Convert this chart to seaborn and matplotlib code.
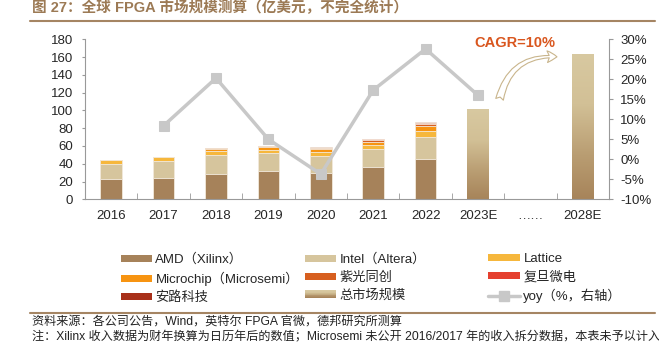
import numpy as np
import pandas as pd
import seaborn as sns
import matplotlib
matplotlib.use("Agg")
import matplotlib.pyplot as plt
from matplotlib.patches import Patch, Rectangle, FancyArrowPatch
from matplotlib.lines import Line2D
from matplotlib.legend_handler import HandlerBase
from matplotlib.colors import LinearSegmentedColormap
from matplotlib.ticker import FuncFormatter, FixedLocator

# ---- data (亿美元) ----
years = ["2016", "2017", "2018", "2019", "2020", "2021", "2022", "2023E", "……", "2028E"]
hist_years = ["2016", "2017", "2018", "2019", "2020", "2021", "2022"]
amd = [22.5, 24.4, 28.9, 31.9, 30.0, 36.7, 45.0]
intel = [17.3, 18.7, 21.0, 19.8, 19.1, 19.5, 25.1]
lattice = [4.1, 4.5, 4.8, 4.2, 4.1, 4.5, 7.1]
microchip = [0.0, 0.0, 1.8, 2.6, 3.0, 3.8, 5.3]
ziguang = [0.3, 0.3, 1.2, 1.1, 1.5, 2.2, 1.9]
fudan = [0.0, 0.0, 0.3, 0.3, 0.5, 0.8, 1.5]
anlu = [0.0, 0.0, 0.1, 0.3, 0.3, 0.7, 1.1]
est_years = ["2023E", "2028E"]
total_est = [101.6, 163.5]
yoy_years = ["2017", "2018", "2019", "2020", "2021", "2022", "2023E"]
yoy = [8.4, 20.3, 5.0, -3.7, 17.3, 27.6, 16.0]

series = [
    ("AMD（Xilinx）", amd, "#a6825a"),
    ("Intel（Altera）", intel, "#d6c59d"),
    ("Lattice", lattice, "#f6b73c"),
    ("Microchip（Microsemi）", microchip, "#f79411"),
    ("紫光同创", ziguang, "#d75f1f"),
    ("复旦微电", fudan, "#e5402f"),
    ("安路科技", anlu, "#a8301a"),
]
line_color = "#c8c8c8"

sns.set_style("ticks")
plt.rcParams["font.family"] = ["Liberation Sans", "Noto Sans CJK SC"]
plt.rcParams["axes.unicode_minus"] = False

fig = plt.figure(figsize=(6.59, 3.5), dpi=100)
ax = fig.add_axes([85 / 659, 1 - 199.3 / 350, 524 / 659, 160 / 350])

# stacked bars: draw cumulative totals from the top layer down
df = pd.DataFrame({name: vals for name, vals, _ in series}, index=hist_years)
cum = df.cumsum(axis=1)
for name, _, color in reversed(series):
    sns.barplot(x=hist_years, y=cum[name].values, order=years, color=color,
                saturation=1, width=0.41, errorbar=None, ax=ax,
                edgecolor="#f3ebdf", linewidth=0.6)

# total market estimate bars with vertical gradient (dark bottom -> light top)
cmap = LinearSegmentedColormap.from_list(
    "grad", [(0, "#a7845a"), (0.3, "#b99d72"), (0.65, "#d2c096"), (1, "#d8c9a1")])
n_before = len(ax.patches)
sns.barplot(x=est_years, y=total_est, order=years, color="#d8c9a1",
            saturation=1, width=0.41, errorbar=None, ax=ax, linewidth=0)
grad = np.linspace(0, 1, 256).reshape(-1, 1)
for p in ax.patches[n_before:]:
    x0, w, h = p.get_x(), p.get_width(), p.get_height()
    if not np.isfinite(h) or h == 0:
        continue
    im = ax.imshow(grad, extent=[x0, x0 + w, 0, h], origin="lower", aspect="auto",
                   cmap=cmap, vmin=0, vmax=1, zorder=p.get_zorder() + 0.1)
    im.set_clip_path(p)

ax.set_xlim(-0.5, len(years) - 0.5)
ax.set_ylim(0, 180)
ax.set_yticks(np.arange(0, 181, 20))
ax.set_xlabel("")
ax.set_ylabel("")
ax.xaxis.set_minor_locator(FixedLocator(np.arange(-0.5, len(years), 1)))
ax.tick_params(axis="x", which="major", length=0, labelsize=9.5, pad=7.5)
ax.tick_params(axis="x", which="minor", direction="in", length=4, color="#999999")
ax.tick_params(axis="y", length=2.5, color="#999999", labelsize=9.5, pad=6)
for s in ["left", "bottom"]:
    ax.spines[s].set_color("#999999")
ax.spines["top"].set_visible(False)
ax.spines["right"].set_visible(False)

# yoy line on right axis
ax2 = ax.twinx()
xpos = [years.index(y) for y in yoy_years]
sns.lineplot(x=xpos, y=yoy, ax=ax2, color=line_color, lw=2.5, marker="s",
             markersize=6.5, markeredgecolor=line_color, markerfacecolor=line_color)
ax2.set_ylim(-10, 30)
ax2.set_yticks(np.arange(-10, 31, 5))
ax2.yaxis.set_major_formatter(FuncFormatter(lambda v, _: f"{v:.0f}%"))
ax2.tick_params(axis="y", length=3, color="#999999", labelsize=9.5, pad=5)
ax2.spines["right"].set_color("#999999")
ax2.spines["top"].set_visible(False)
ax2.spines["left"].set_visible(False)
ax2.spines["bottom"].set_visible(False)
ax2.set_ylabel("")

# CAGR annotation
ax2.text(0.82, 0.977, "CAGR=10%", transform=ax2.transAxes, ha="center", va="center",
         color="#d9561e", fontweight="bold", fontsize=10.5)
arrow = FancyArrowPatch(posA=(0.79, 0.608), posB=(0.906, 0.889), transform=ax2.transAxes,
                        arrowstyle="fancy,head_length=0.5,head_width=0.6,tail_width=0.4",
                        connectionstyle="arc3,rad=-0.45", mutation_scale=14,
                        facecolor="white", edgecolor="#c9b58c", lw=0.8)
ax2.add_patch(arrow)


# legend
class GradientHandler(HandlerBase):
    def create_artists(self, legend, orig_handle, xdescent, ydescent, width, height,
                       fontsize, trans):
        n = 10
        arts = []
        for i in range(n):
            r = Rectangle((-xdescent, -ydescent + height * i / n), width, height / n,
                          facecolor=cmap(i / (n - 1)), edgecolor="none", transform=trans)
            arts.append(r)
        return arts


handles = [Patch(facecolor=c, edgecolor="none") for _, _, c in series]
grad_handle = Patch(facecolor="#d8c9a1")
yoy_handle = Line2D([], [], color=line_color, lw=2.5, marker="s", markersize=6.5)
names = [n for n, _, _ in series]
columns = [
    ([handles[0], handles[3], handles[6]], [names[0], names[3], names[6]], 120.5),
    ([handles[1], handles[4], grad_handle], [names[1], names[4], "总市场规模"], 304.5),
    ([handles[2], handles[5], yoy_handle], [names[2], names[5], "yoy（%，右轴）"], 488.5),
]
for h, l, xpix in columns:
    fig.legend(h, l, loc="upper left", bbox_to_anchor=(xpix / 659, 1 - 253.5 / 350),
               frameon=False, fontsize=9.5, borderpad=0, borderaxespad=0,
               handlelength=2.4, handleheight=0.45, handletextpad=0.25,
               labelspacing=0.42, handler_map={grad_handle: GradientHandler()})

# title, rules and footer
fig.text(32 / 659, 1 - 7.5 / 350, "图 27：全球 FPGA 市场规模测算（亿美元，不完全统计）",
         fontsize=10.5, fontweight="bold", color="#9c7a55", va="center")
fig.add_artist(Line2D([30 / 659, 655 / 659], [1 - 20.7 / 350] * 2, color="#a58563", lw=1.5))
fig.add_artist(Line2D([30 / 659, 655 / 659], [1 - 312.5 / 350] * 2, color="#a58563", lw=1.5))
fig.text(32 / 659, 1 - 322 / 350, "资料来源：各公司公告，Wind，英特尔 FPGA 官微，德邦研究所测算",
         fontsize=8.7, color="#222222", va="center")
fig.text(32 / 659, 1 - 337 / 350,
         "注：Xilinx 收入数据为财年换算为日历年后的数值；Microsemi 未公开 2016/2017 年的收入拆分数据，本表未予以计入",
         fontsize=8.7, color="#222222", va="center")

fig.savefig("out.png", dpi=100)
